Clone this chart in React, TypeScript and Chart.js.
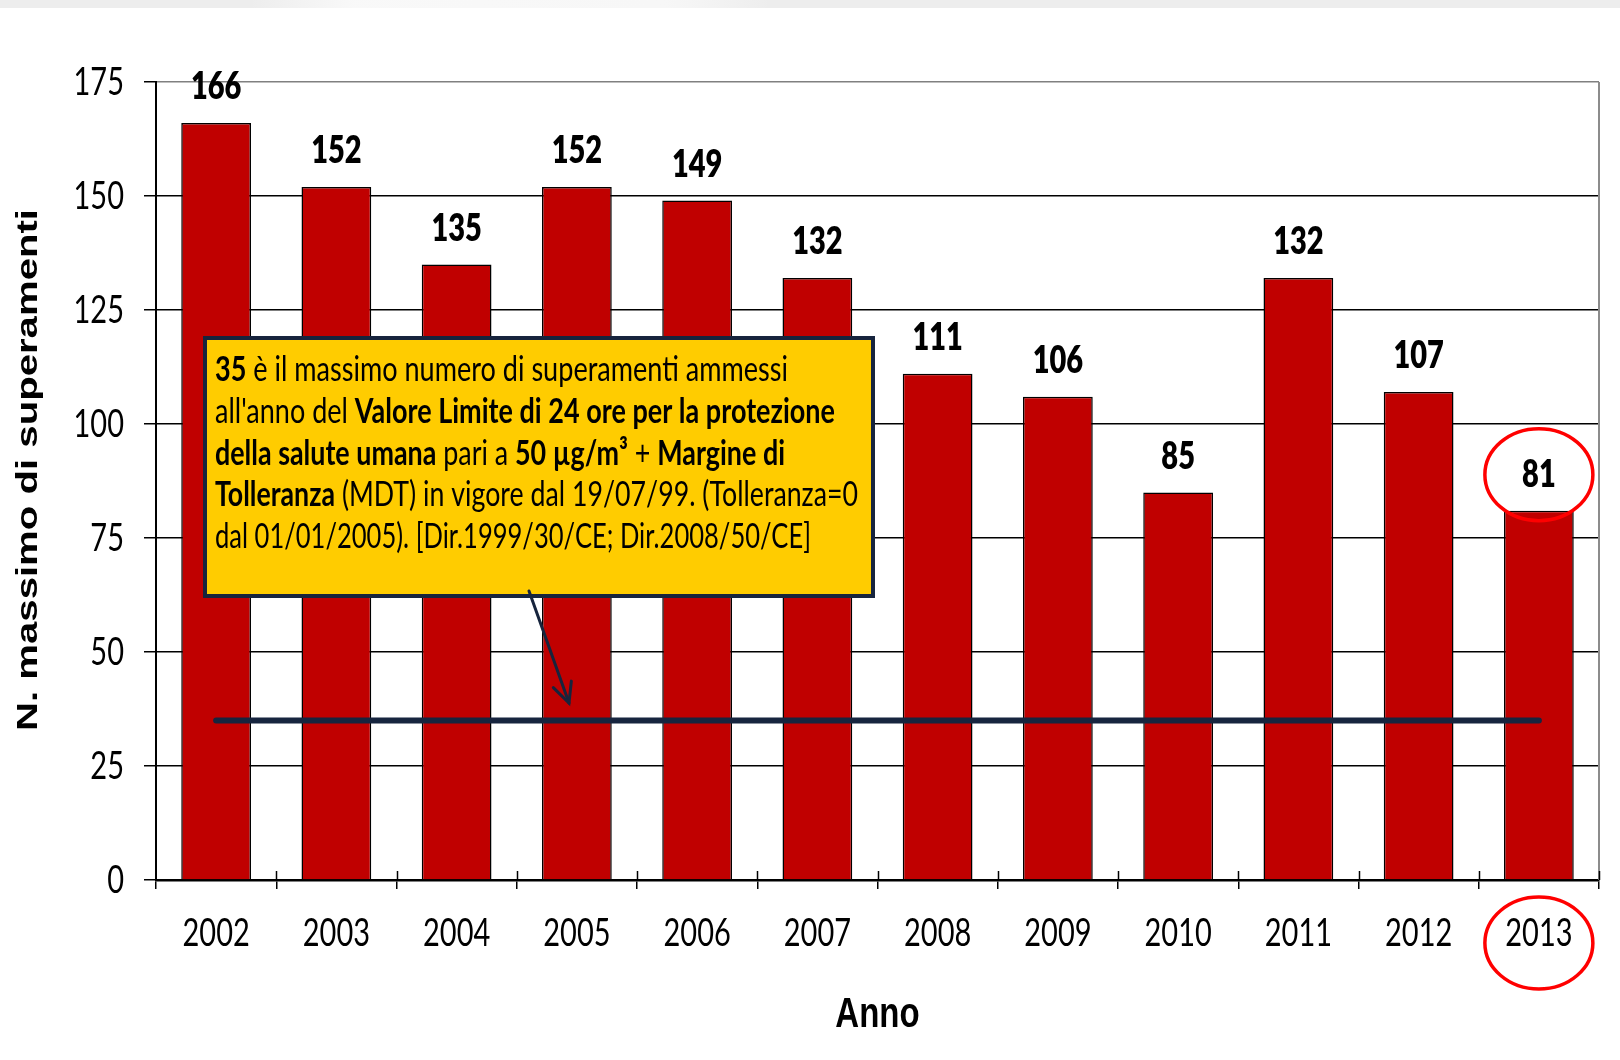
import { useEffect, useRef } from "react";
import { Chart, registerables } from "chart.js";

Chart.register(...registerables);

const YEARS = ["2002", "2003", "2004", "2005", "2006", "2007", "2008", "2009", "2010", "2011", "2012", "2013"];
const MAX_EXCEEDANCES = [166, 152, 135, 152, 149, 132, 111, 106, 85, 132, 107, 81];
const LIMIT_LINE = [35, 35, 35, 35, 35, 35, 35, 35, 35, 35, 35, 35];
const Y_TICKS = [0, 25, 50, 75, 100, 125, 150, 175];
const HIGHLIGHT_INDEX = 11;
const Y_TITLE = "N. massimo di superamenti";
const X_TITLE = "Anno";

type Seg = [string, boolean];
const NOTE_LINES: Seg[][] = [
  [["35", true], [" è il massimo numero di superamenti ammessi", false]],
  [["all'anno del ", false], ["Valore Limite di 24 ore per la protezione", true]],
  [["della salute umana", true], [" pari a ", false], ["50 µg/m³", true], [" + ", false], ["Margine di", true]],
  [["Tolleranza", true], [" (MDT) in vigore dal 19/07/99. (Tolleranza=0", false]],
  [["dal 01/01/2005). [Dir.1999/30/CE; Dir.2008/50/CE]", false]],
];
// rendered width of each note line (px)
const NOTE_LINE_WIDTHS = [573, 620, 570, 643, 596];

const HUMANIST = "Lato, 'Open Sans', sans-serif";
const GROTESK = "'Liberation Sans', Arial, sans-serif";

function stretchedText(
  ctx: CanvasRenderingContext2D,
  text: string,
  x: number,
  y: number,
  font: string,
  ky: number,
  align: CanvasTextAlign,
  kx = 1
) {
  ctx.save();
  ctx.translate(x, y);
  ctx.scale(kx, ky);
  ctx.font = font;
  ctx.textAlign = align;
  ctx.textBaseline = "middle";
  ctx.fillText(text, 0, 0);
  ctx.restore();
}

const decor = {
  id: "decor",
  beforeDraw(chart: any) {
    const { ctx, width, height } = chart;
    ctx.save();
    ctx.fillStyle = "#ffffff";
    ctx.fillRect(0, 0, width, height);
    ctx.fillStyle = "#ededed";
    ctx.fillRect(0, 0, width, 8);
    const g = ctx.createLinearGradient(250, 0, 770, 0);
    g.addColorStop(0, "rgba(250,250,250,0)");
    g.addColorStop(0.2, "rgba(250,250,250,0.9)");
    g.addColorStop(0.8, "rgba(248,248,248,0.9)");
    g.addColorStop(1, "rgba(250,250,250,0)");
    ctx.fillStyle = g;
    ctx.fillRect(250, 0, 520, 8);
    ctx.restore();
  },
  afterDatasetsDraw(chart: any) {
    const { ctx, chartArea } = chart;
    const xs = chart.scales.x;
    const ys = chart.scales.y;
    const barMeta = chart.getDatasetMeta(1);
    ctx.save();

    // right border
    ctx.strokeStyle = "#8c8c8c";
    ctx.lineWidth = 2;
    ctx.beginPath();
    ctx.moveTo(chartArea.right, chartArea.top);
    ctx.lineTo(chartArea.right, chartArea.bottom);
    ctx.stroke();

    // category tick marks crossing the axis (upper part)
    ctx.strokeStyle = "#000";
    ctx.lineWidth = 1.5;
    const n = YEARS.length;
    const step = (chartArea.right - chartArea.left) / n;
    for (let i = 1; i <= n; i++) {
      const x = Math.round(xs.getPixelForValue(i - 1) + step / 2) + 0.5;
      ctx.beginPath();
      ctx.moveTo(x, chartArea.bottom - 9);
      ctx.lineTo(x, chartArea.bottom);
      ctx.stroke();
    }

    ctx.fillStyle = "#000";

    // x tick labels
    YEARS.forEach((lab, i) => {
      stretchedText(ctx, lab, xs.getPixelForValue(i), 933, `29px ${HUMANIST}`, 1.34, "center");
    });
    // y tick labels
    Y_TICKS.forEach((v) => {
      stretchedText(ctx, String(v), 124, ys.getPixelForValue(v), `29px ${HUMANIST}`, 1.34, "right");
    });

    // data labels
    barMeta.data.forEach((bar: any, i: number) => {
      stretchedText(ctx, String(MAX_EXCEEDANCES[i]), bar.x, bar.y - 36, `800 29px ${HUMANIST}`, 1.3, "center");
    });

    // axis titles
    stretchedText(ctx, X_TITLE, (chartArea.left + chartArea.right) / 2, 1015, `bold 33px ${GROTESK}`, 1.27, "center");
    ctx.save();
    ctx.translate(29, 470);
    ctx.rotate(-Math.PI / 2);
    ctx.font = `bold 29px ${GROTESK}`;
    const tw = ctx.measureText(Y_TITLE).width;
    ctx.scale(522 / tw, 1);
    ctx.textAlign = "center";
    ctx.textBaseline = "middle";
    ctx.fillText(Y_TITLE, 0, 0);
    ctx.restore();

    // note box
    const bx = 205, by = 338, bw = 668, bh = 258;
    ctx.fillStyle = "#ffcc00";
    ctx.fillRect(bx, by, bw, bh);
    ctx.strokeStyle = "#17243d";
    ctx.lineWidth = 4;
    ctx.strokeRect(bx, by, bw, bh);

    const fs = 26;
    const fontFor = (b: boolean) => `${b ? "bold " : ""}${fs}px ${HUMANIST}`;
    const measureLine = (line: Seg[]) =>
      line.reduce((acc, [t, b]) => {
        ctx.font = fontFor(b);
        return acc + ctx.measureText(t).width;
      }, 0);
    ctx.fillStyle = "#000";
    ctx.textAlign = "left";
    ctx.textBaseline = "middle";
    NOTE_LINES.forEach((line, li) => {
      const sx = NOTE_LINE_WIDTHS[li] / measureLine(line);
      ctx.save();
      ctx.translate(215, 370 + li * 41.8);
      ctx.scale(sx, 1.3);
      let x = 0;
      line.forEach(([t, b]) => {
        ctx.font = fontFor(b);
        ctx.fillText(t, x, 0);
        x += ctx.measureText(t).width;
      });
      ctx.restore();
    });

    // arrow
    const ax0 = 529, ay0 = 591, ax1 = 569, ay1 = 703;
    ctx.strokeStyle = "#17243d";
    ctx.lineWidth = 3;
    ctx.lineCap = "round";
    ctx.beginPath();
    ctx.moveTo(ax0, ay0);
    ctx.lineTo(ax1, ay1);
    ctx.stroke();
    const ang = Math.atan2(ay1 - ay0, ax1 - ax0);
    const hl = 22;
    ctx.beginPath();
    ctx.moveTo(ax1 - hl * Math.cos(ang - 0.45), ay1 - hl * Math.sin(ang - 0.45));
    ctx.lineTo(ax1, ay1);
    ctx.lineTo(ax1 - hl * Math.cos(ang + 0.45), ay1 - hl * Math.sin(ang + 0.45));
    ctx.stroke();

    // highlight ellipses
    const hb = barMeta.data[HIGHLIGHT_INDEX];
    ctx.strokeStyle = "#ff0000";
    ctx.lineWidth = 3.5;
    ctx.beginPath();
    ctx.ellipse(hb.x, hb.y - 36, 54, 46, 0, 0, Math.PI * 2);
    ctx.stroke();
    ctx.beginPath();
    ctx.ellipse(hb.x, chartArea.bottom + 63, 54, 46, 0, 0, Math.PI * 2);
    ctx.stroke();

    ctx.restore();
  },
};

export default function App() {
  const ref = useRef<HTMLCanvasElement | null>(null);
  useEffect(() => {
    if (!ref.current) return;
    const chart = new Chart(ref.current, {
      type: "bar",
      data: {
        labels: YEARS,
        datasets: [
          {
            type: "line",
            label: "Limite",
            data: LIMIT_LINE,
            borderColor: "#17253f",
            borderWidth: 6,
            borderCapStyle: "round",
            pointRadius: 0,
            fill: false,
            order: 0,
          } as any,
          {
            type: "bar",
            label: "N. massimo di superamenti",
            data: MAX_EXCEEDANCES,
            backgroundColor: "#c00000",
            borderColor: "#000000",
            borderWidth: 1.5,
            categoryPercentage: 1,
            barPercentage: 0.58,
            order: 1,
          },
        ],
      },
      options: {
        animation: false,
        responsive: false,
        events: [],
        layout: { padding: { top: 82, right: 21, left: 0, bottom: 0 } },
        plugins: {
          legend: { display: false },
          tooltip: { enabled: false },
          title: { display: false },
        },
        scales: {
          x: {
            offset: true,
            afterFit: (s: any) => {
              s.height = 180;
            },
            grid: {
              display: true,
              offset: true,
              drawOnChartArea: false,
              drawTicks: true,
              tickLength: 9,
              color: "#000",
              lineWidth: 1.5,
            },
            border: { display: true, color: "#000", width: 2.5 },
            ticks: { display: false, autoSkip: false },
            title: { display: false },
          },
          y: {
            min: 0,
            max: 175,
            afterFit: (s: any) => {
              s.width = 156;
            },
            afterBuildTicks: (s: any) => {
              s.ticks = Y_TICKS.map((v) => ({ value: v }));
            },
            grid: {
              color: (c: any) => (c.tick && c.tick.value === 175 ? "#808080" : "#000"),
              tickColor: "#000",
              lineWidth: 1.5,
              tickLength: 12,
            },
            border: { display: true, color: "#000", width: 2 },
            ticks: { display: false },
            title: { display: false },
          },
        },
      },
      plugins: [decor],
    });
    return () => chart.destroy();
  }, []);
  return (
    <div style={{ position: "fixed", left: 0, top: 0, width: 1620, height: 1060, background: "#fff" }}>
      <canvas ref={ref} width={1620} height={1060} style={{ display: "block", width: 1620, height: 1060 }} />
    </div>
  );
}
